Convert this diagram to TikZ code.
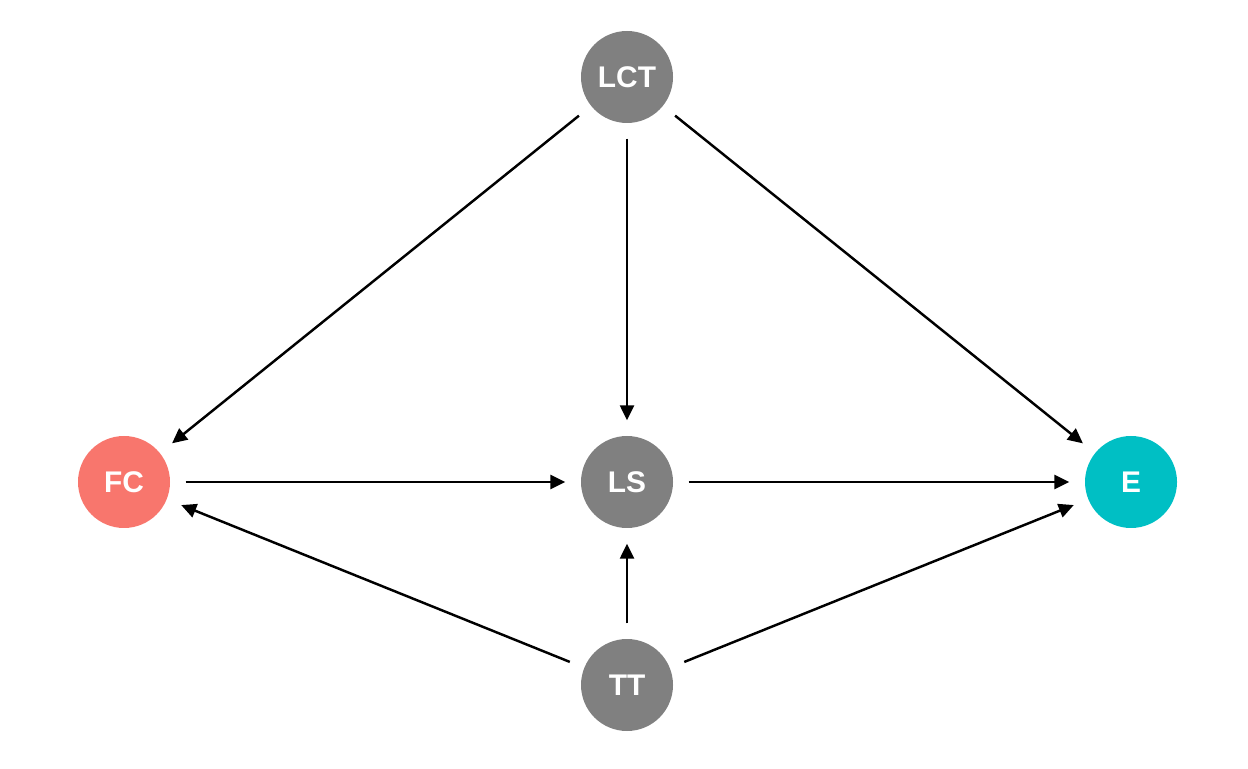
\documentclass[tikz,border=0pt]{standalone}
\usepackage{fontspec}
\setmainfont{Liberation Sans}
\usepackage{tikz}
\usetikzlibrary{arrows.meta}

\definecolor{fcred}{HTML}{F8766D}
\definecolor{ecyan}{HTML}{00BFC4}
\definecolor{nodegray}{HTML}{808080}

\begin{document}
\begin{tikzpicture}[
        var/.style={circle, fill=nodegray, text=white, minimum size=0.92cm, inner sep=0pt,
                    font=\fontsize{8.5}{10}\selectfont\bfseries},
        edge/.style={-{Triangle[length=0.15cm, width=0.14cm]}, line width=0.7pt,
                     shorten >=0.15cm, shorten <=0.15cm}
    ]
        \useasboundingbox (0, 0) rectangle (12.48, 7.68);

        % Nodes
        \node[var] (LCT) at (6.27, 6.91) {LCT};
        \node[var, fill=fcred] (FC) at (1.24, 2.86) {FC};
        \node[var] (LS) at (6.27, 2.86) {LS};
        \node[var, fill=ecyan] (E) at (11.31, 2.86) {E};
        \node[var] (TT) at (6.27, 0.83) {TT};

        % Lines
        \draw[edge] (LCT) -- (FC);
        \draw[edge] (LCT) -- (LS);
        \draw[edge] (LCT) -- (E);
        \draw[edge] (FC) -- (LS);
        \draw[edge] (LS) -- (E);
        \draw[edge] (TT) -- (FC);
        \draw[edge] (TT) -- (LS);
        \draw[edge] (TT) -- (E);
    \end{tikzpicture}
\end{document}
